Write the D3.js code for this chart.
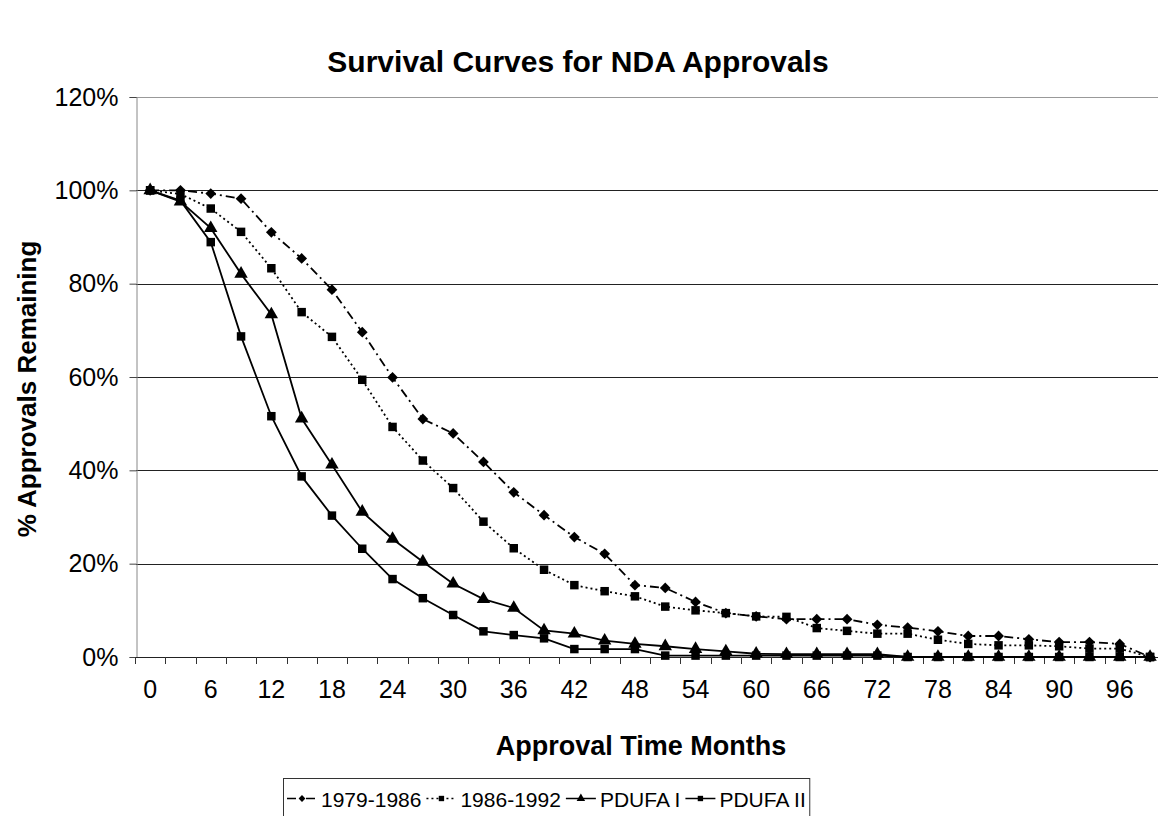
<!DOCTYPE html>
<html>
<head>
<meta charset="utf-8">
<script src="https://cdn.jsdelivr.net/npm/d3@7/dist/d3.min.js"></script>
<style>
  html, body { margin: 0; padding: 0; background: #fff; }
  svg { display: block; font-family: "Liberation Sans", Arial, sans-serif; }
</style>
</head>
<body>
<svg id="chart" width="1158" height="816"></svg>
<script>
// ---- data ----
const months = [0,3,6,9,12,15,18,21,24,27,30,33,36,39,42,45,48,51,54,57,60,63,66,69,72,75,78,81,84,87,90,93,96,99];
const tickLabelMonths = [0,6,12,18,24,30,36,42,48,54,60,66,72,78,84,90,96];
const yTicks = [0,20,40,60,80,100,120];
const seriesNames = ["1979-1986", "1986-1992", "PDUFA I", "PDUFA II"];
const s1979 = [100,100,99.3,98.2,91.0,85.4,78.7,69.6,59.9,51.0,47.9,41.8,35.3,30.4,25.7,22.1,15.4,14.8,11.8,9.4,8.7,8.1,8.1,8.1,6.9,6.3,5.5,4.5,4.5,3.8,3.2,3.2,2.8,0];
const s1986 = [100,99.2,96.1,91.1,83.3,73.9,68.6,59.4,49.3,42.1,36.2,29.0,23.3,18.7,15.4,14.1,13.0,10.8,10.0,9.4,8.7,8.6,6.2,5.6,5.0,5.0,3.7,2.8,2.5,2.5,2.3,1.8,1.8,0];
const pdufa1 = [100,97.6,91.9,82.1,73.4,51.1,41.2,31.1,25.3,20.4,15.7,12.4,10.5,5.7,5.0,3.5,2.8,2.3,1.7,1.2,0.7,0.6,0.6,0.6,0.6,0,0,0,0,0,0,0,0,0];
const pdufa2 = [100,97.8,88.9,68.7,51.6,38.7,30.3,23.2,16.7,12.6,9.0,5.5,4.7,4.0,1.7,1.7,1.7,0.3,0.3,0.3,0.3,0.3,0.3,0.3,0.3,0,0,0,0,0,0,0,0,0];

const seriesValues = [s1979, s1986, pdufa1, pdufa2];

(function () {
const svg = d3.select("#chart");
const plotLeft = 136, plotTop = 97, plotBottom = 657;
const band = 30.3;

const seriesStyle = [
  { dash: "9,4,2,4", symbol: d3.symbolSquare, size: 58, rotate: 45 },
  { dash: "2,3", symbol: d3.symbolSquare, size: 72, rotate: 0 },
  { dash: null, symbol: d3.symbolTriangle, size: 78, rotate: 0 },
  { dash: null, symbol: d3.symbolSquare, size: 72, rotate: 0 }
];

const x = d3.scaleBand().domain(months).range([135, 135 + band * months.length]).paddingInner(0).paddingOuter(0);
const cx = m => x(m) + x.bandwidth() / 2;
const y = d3.scaleLinear().domain([0, 120]).range([plotBottom, plotTop]);

// title
svg.append("text").attr("x", 578).attr("y", 72).attr("text-anchor", "middle")
  .style("font-size", "30px").style("font-weight", "bold").text("Survival Curves for NDA Approvals");

// gridlines
svg.append("g").selectAll("line").data(yTicks.filter(t => t > 0)).join("line")
  .attr("x1", plotLeft).attr("x2", 1158)
  .attr("y1", d => Math.round(y(d)) + 0.5).attr("y2", d => Math.round(y(d)) + 0.5)
  .attr("stroke", d => d === 120 ? "#999" : "#222").attr("stroke-width", 1);

// y axis
const yAxis = d3.axisLeft(y).tickValues(yTicks).tickFormat(d => d + "%").tickSize(7).tickPadding(11);
const gy = svg.append("g").attr("transform", `translate(${plotLeft + 0.5},0)`).call(yAxis);
gy.select(".domain").attr("stroke", "#888");
gy.selectAll(".tick line").attr("stroke", "#444");
gy.selectAll("text").style("font-size", "25px").style("font-family", "'Liberation Sans', Arial, sans-serif").attr("fill", "#000");

// x axis: ticks at category boundaries
const gx = svg.append("g");
gx.append("line").attr("x1", 135).attr("x2", 1158).attr("y1", plotBottom + 0.5).attr("y2", plotBottom + 0.5).attr("stroke", "#222");
const boundaries = months.map(m => x(m)).concat([x(months[months.length - 1]) + x.bandwidth()]);
gx.selectAll("line.tk").data(boundaries).join("line").attr("class", "tk")
  .attr("x1", d => Math.round(d) + 0.5).attr("x2", d => Math.round(d) + 0.5)
  .attr("y1", plotBottom).attr("y2", plotBottom + 7).attr("stroke", "#333");
gx.selectAll("text").data(tickLabelMonths).join("text")
  .attr("x", d => cx(d)).attr("y", 698).attr("text-anchor", "middle")
  .style("font-size", "25px").text(d => d);

// axis titles
svg.append("text").attr("x", 641).attr("y", 755).attr("text-anchor", "middle")
  .style("font-size", "27px").style("font-weight", "bold").text("Approval Time Months");
svg.append("text").attr("transform", "translate(36,389) rotate(-90)").attr("text-anchor", "middle")
  .style("font-size", "26px").style("font-weight", "bold").text("% Approvals Remaining");

// series
const line = d3.line().x((d, i) => cx(months[i])).y(d => y(d));
seriesValues.forEach((vals, si) => {
  const st = seriesStyle[si];
  const g = svg.append("g");
  g.append("path").attr("d", line(vals)).attr("fill", "none").attr("stroke", "#000")
    .attr("stroke-width", 1.8).attr("stroke-dasharray", st.dash);
  g.selectAll("path.m").data(vals).join("path").attr("class", "m")
    .attr("transform", (d, i) => `translate(${cx(months[i])},${y(d)}) rotate(${st.rotate})`)
    .attr("d", d3.symbol().type(st.symbol).size(st.size)).attr("fill", "#000");
});

// legend (laid out sequentially from measured text widths)
const lg = svg.append("g");
const box = lg.append("rect").attr("x", 283.5).attr("y", 778.5).attr("height", 42)
  .attr("fill", "#fff").attr("stroke", "#333");
let cursor = 287;
const sampleW = 30;
seriesNames.forEach((name, si) => {
  const st = seriesStyle[si];
  const lx = cursor;
  lg.append("line").attr("x1", lx).attr("x2", lx + sampleW).attr("y1", 798.5).attr("y2", 798.5)
    .attr("stroke", "#000").attr("stroke-width", 1.5).attr("stroke-dasharray", st.dash);
  lg.append("path").attr("transform", `translate(${lx + sampleW / 2},798.5) rotate(${st.rotate})`)
    .attr("d", d3.symbol().type(st.symbol).size(st.size * 0.4)).attr("fill", "#000");
  const t = lg.append("text").attr("x", lx + sampleW + 4).attr("y", 806.5).style("font-size", "21px").text(name);
  const w = t.node().getComputedTextLength();
  cursor = lx + sampleW + 4 + w + 5;
});
box.attr("width", cursor - 283.5 - 1);
})();
</script>
</body>
</html>
